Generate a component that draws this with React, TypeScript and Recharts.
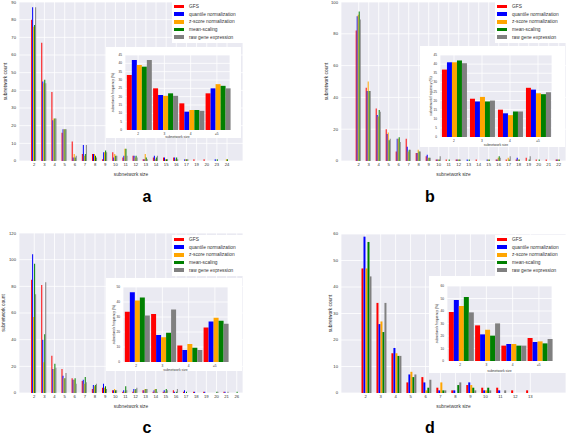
import React from 'react';
import { BarChart, Bar, XAxis, YAxis, CartesianGrid, Label } from 'recharts';

// series order: GFS, quantile, z-score, mean-scaling, raw
const SERIES = [
  { key: 'gfs', name: 'GFS', color: '#ff0000' },
  { key: 'quantile', name: 'quantile normalization', color: '#0000ff' },
  { key: 'zscore', name: 'z-score normalization', color: '#ffa500' },
  { key: 'mean', name: 'mean-scaling', color: '#008000' },
  { key: 'raw', name: 'raw gene expression', color: '#808080' },
];

// panel a
const sizesA = ['2', '3', '4', '5', '6', '7', '8', '9', '10', '11', '12', '13', '14', '15', '16', '17', '19', '20', '23', '24'];
const gfsA = [80, 67, 39, 16, 11, 4, 4, 1, 5, 2, 3, 1, 2, 2, 2, 0, 1, 1, 0, 0];
const quantileA = [87, 45, 23, 18, 2, 9, 4, 5, 2, 3, 3, 1, 3, 2, 2, 1, 0, 0, 1, 0];
const zscoreA = [76, 44, 24, 18, 4, 3, 4, 5, 4, 7, 2, 4, 1, 1, 1, 1, 0, 0, 0, 1];
const meanA = [77, 46, 24, 18, 2, 4, 3, 6, 3, 7, 3, 2, 2, 1, 2, 1, 0, 0, 1, 1];
const rawA = [87, 44, 24, 18, 3, 9, 2, 5, 3, 3, 2, 1, 3, 1, 1, 1, 0, 0, 0, 0];

// panel b
const sizesB = ['2', '3', '4', '5', '6', '7', '8', '9', '10', '11', '12', '13', '14', '15', '16', '17', '18', '19', '20', '21', '22'];
const gfsB = [82, 46, 33, 20, 6, 14, 5, 3, 1, 1, 1, 0, 1, 0, 1, 1, 1, 2, 1, 1, 1];
const quantileB = [91, 44, 29, 17, 14, 9, 5, 4, 1, 0, 1, 1, 0, 1, 1, 0, 2, 0, 0, 0, 1];
const zscoreB = [92, 50, 28, 18, 14, 6, 7, 2, 1, 0, 1, 0, 0, 1, 2, 2, 1, 0, 0, 0, 1];
const meanB = [94, 44, 32, 13, 15, 7, 6, 2, 1, 1, 1, 1, 0, 1, 3, 1, 1, 1, 1, 0, 1];
const rawB = [89, 44, 31, 14, 12, 7, 6, 2, 3, 0, 1, 0, 0, 0, 2, 3, 0, 3, 0, 0, 0];

// panel c
const sizesC = ['2', '3', '4', '5', '6', '7', '8', '9', '10', '11', '12', '13', '14', '15', '16', '17', '18', '19', '20', '21', '26'];
const gfsC = [85, 81, 28, 18, 11, 9, 3, 4, 2, 1, 1, 2, 1, 1, 2, 1, 1, 1, 0, 1, 0];
const quantileC = [104, 40, 18, 13, 10, 10, 6, 7, 2, 2, 3, 2, 2, 2, 1, 2, 1, 1, 0, 1, 0];
const zscoreC = [57, 23, 18, 11, 10, 7, 5, 4, 3, 1, 2, 3, 3, 1, 0, 0, 0, 0, 0, 0, 0];
const meanC = [97, 44, 22, 11, 11, 12, 6, 5, 2, 5, 3, 3, 3, 3, 1, 1, 0, 0, 1, 0, 1];
const rawC = [74, 83, 19, 15, 7, 8, 7, 3, 2, 2, 4, 3, 1, 2, 3, 0, 0, 0, 1, 1, 0];

// panel d
const sizesD = ['2', '3', '4', '5', '6', '7', '8', '9', '10', '11', '12', '13'];
const gfsD = [47, 34, 15, 4, 6, 2, 1, 3, 2, 2, 1, 1];
const quantileD = [59, 26, 17, 7, 4, 1, 1, 4, 1, 1, 0, 0];
const zscoreD = [47, 27, 15, 8, 1, 4, 0, 3, 1, 0, 0, 0];
const meanD = [57, 23, 14, 6, 2, 1, 3, 2, 2, 0, 0, 0];
const rawD = [44, 34, 14, 7, 5, 1, 4, 1, 1, 1, 0, 0];

// insets: frequency (%) by size group
const insetSizes = ['2', '3', '4', '≥5'];
const insetA = [[33, 25, 16, 22], [42, 21, 11, 25], [39, 20.5, 12, 27.5], [38, 22, 12, 26.5], [42, 20.5, 11.5, 25]];
const insetB = [[37, 21, 15, 27], [41, 19.5, 13, 26], [41, 22, 12, 24], [42, 19.5, 14, 23.5], [40.5, 20, 14, 24.5]];
const insetC = [[33.5, 32, 11, 23], [46.5, 18, 8, 27], [41, 16.5, 12, 29.5], [43, 19.5, 9.5, 27.5], [31, 35, 8, 25.5]];
const insetD = [[39.2, 28.5, 12.3, 18.4], [48.8, 21.3, 13.6, 15.2], [44, 25, 13.6, 15.7], [51.2, 20.3, 12.3, 14.1], [38.9, 30.1, 12.3, 17.6]];

const FONT = '"Liberation Sans", Arial, sans-serif';
const TEXT = '#333';

const toRows = (cats: string[], series: number[][]) =>
  cats.map((c, i) => {
    const row: any = { size: c };
    SERIES.forEach((s, j) => {
      row[s.key] = series[j][i];
    });
    return row;
  });

const range = (max: number, step: number) => {
  const out: number[] = [];
  for (let v = 0; v <= max + 1e-9; v += step) out.push(v);
  return out;
};

const yTitle = (text: string, dx: number, size: number) => (props: any) => {
  const vb = props.viewBox;
  const x = vb.x + dx;
  const y = vb.y + vb.height / 2;
  return (
    <text x={x} y={y} transform={`rotate(-90 ${x} ${y})`} textAnchor="middle" dominantBaseline="central" fontSize={size} fill={TEXT}>
      {text}
    </text>
  );
};

interface PlotProps {
  rows: any[];
  left: number;
  top: number;
  width: number;
  height: number;
  yAxisWidth: number;
  marginTop: number;
  marginRight: number;
  xAxisHeight: number;
  yMax: number;
  yStep: number;
  padLeft: number;
  padRight: number;
  gap: string;
  yTitleText: string;
  yTitleDx: number;
  xTitleOffset: number;
  tickSize: number;
  titleSize: number;
  background?: string;
}

const Plot: React.FC<PlotProps> = (p) => (
  <div style={{ position: 'absolute', left: p.left, top: p.top, width: p.width, height: p.height, background: p.background }}>
    <BarChart
      width={p.width}
      height={p.height}
      data={p.rows}
      margin={{ top: p.marginTop, right: p.marginRight, left: 0, bottom: 0 }}
      barGap={0}
      barCategoryGap={p.gap}
      style={{ fontFamily: FONT }}
    >
      <CartesianGrid fill="#eaeaf2" stroke="#ffffff" strokeWidth={0.8} />
      <XAxis
        dataKey="size"
        height={p.xAxisHeight}
        interval={0}
        axisLine={false}
        tickLine={false}
        tickSize={1}
        tickMargin={1.5}
        padding={{ left: p.padLeft, right: p.padRight }}
        tick={{ fontSize: p.tickSize, fill: TEXT }}
        label={{ value: 'subnetwork size', position: 'insideBottom', offset: p.xTitleOffset, fontSize: p.titleSize, fill: TEXT }}
      />
      <YAxis
        width={p.yAxisWidth}
        type="number"
        domain={[0, p.yMax]}
        ticks={range(p.yMax, p.yStep)}
        interval={0}
        axisLine={false}
        tickLine={false}
        tickSize={1}
        tickMargin={2}
        tick={{ fontSize: p.tickSize, fill: TEXT }}
      >
        <Label content={yTitle(p.yTitleText, p.yTitleDx, p.titleSize)} />
      </YAxis>
      {SERIES.map((s) => (
        <Bar key={s.key} dataKey={s.key} fill={s.color} isAnimationActive={false} />
      ))}
    </BarChart>
  </div>
);

const LegendBox: React.FC<{ left: number; top: number }> = ({ left, top }) => (
  <div style={{ position: 'absolute', left, top, width: 71, height: 41, background: '#fff', fontFamily: FONT }}>
    {SERIES.map((s, i) => (
      <div key={s.key} style={{ position: 'absolute', left: 2, top: 2 + i * 7.7, height: 5, display: 'flex', alignItems: 'center' }}>
        <span style={{ display: 'inline-block', width: 10, height: 3.8, background: s.color }} />
        <span style={{ marginLeft: 5, fontSize: 4.8, lineHeight: '5px', color: TEXT, whiteSpace: 'nowrap' }}>{s.name}</span>
      </div>
    ))}
  </div>
);

const PanelLetter: React.FC<{ x: number; y: number; text: string }> = ({ x, y, text }) => (
  <div
    style={{
      position: 'absolute',
      left: x - 10,
      top: y - 8,
      width: 20,
      height: 16,
      lineHeight: '16px',
      textAlign: 'center',
      fontFamily: FONT,
      fontWeight: 'bold',
      fontSize: 16,
      color: '#000',
    }}
  >
    {text}
  </div>
);

const mainCommon = { tickSize: 4.2, titleSize: 4.8, yTitleText: 'subnetwork count' };
const insetCommon = { tickSize: 3.2, titleSize: 3.4, yTitleText: 'subnetwork frequency (%)', padLeft: 0, padRight: 0, gap: '7%', background: '#fff' };

export default function App() {
  return (
    <div style={{ position: 'absolute', left: 0, top: 0, width: 567, height: 437, background: '#fff', overflow: 'hidden' }}>
      {/* a */}
      <Plot {...mainCommon} rows={toRows(sizesA, [gfsA, quantileA, zscoreA, meanA, rawA])}
        left={0} top={0} width={245} height={180} yAxisWidth={19} marginTop={2} marginRight={2} xAxisHeight={19}
        yMax={90} yStep={10} padLeft={10.2} padRight={10.9} gap="19%" yTitleDx={5} xTitleOffset={4} />
      <LegendBox left={172} top={2} />
      <Plot {...insetCommon} rows={toRows(insetSizes, insetA)}
        left={106} top={47} width={135} height={91} yAxisWidth={19} marginTop={8} marginRight={11} xAxisHeight={8}
        yMax={45} yStep={5} yTitleDx={7} xTitleOffset={0.5} />
      <PanelLetter x={147} y={197} text="a" />

      {/* b */}
      <Plot {...mainCommon} rows={toRows(sizesB, [gfsB, quantileB, zscoreB, meanB, rawB])}
        left={322} top={0} width={244} height={180} yAxisWidth={19} marginTop={2} marginRight={0} xAxisHeight={19}
        yMax={100} yStep={20} padLeft={12.7} padRight={2.3} gap="20%" yTitleDx={4} xTitleOffset={4} />
      <LegendBox left={495} top={2} />
      <Plot {...insetCommon} rows={toRows(insetSizes, insetB)}
        left={420} top={46} width={145} height={101} yAxisWidth={20} marginTop={9} marginRight={13} xAxisHeight={10}
        yMax={45} yStep={5} yTitleDx={11} xTitleOffset={1} />
      <PanelLetter x={430} y={197} text="b" />

      {/* c */}
      <Plot {...mainCommon} rows={toRows(sizesC, [gfsC, quantileC, zscoreC, meanC, rawC])}
        left={0} top={231} width={245} height={180} yAxisWidth={19} marginTop={2} marginRight={2} xAxisHeight={18}
        yMax={120} yStep={20} padLeft={10.2} padRight={1.2} gap="19%" yTitleDx={3} xTitleOffset={3} />
      <LegendBox left={172} top={235} />
      <Plot {...insetCommon} rows={toRows(insetSizes, insetC)}
        left={106} top={278} width={136} height={93} yAxisWidth={17} marginTop={9} marginRight={14} xAxisHeight={9}
        yMax={50} yStep={10} yTitleDx={8} xTitleOffset={0.5} />
      <PanelLetter x={147} y={428} text="c" />

      {/* d */}
      <Plot {...mainCommon} rows={toRows(sizesD, [gfsD, quantileD, zscoreD, meanD, rawD])}
        left={322} top={231} width={244} height={180} yAxisWidth={19} marginTop={3} marginRight={0} xAxisHeight={18}
        yMax={60} yStep={10} padLeft={17.2} padRight={28.2} gap="22%" yTitleDx={8} xTitleOffset={3} />
      <LegendBox left={495} top={235} />
      <Plot {...insetCommon} rows={toRows(insetSizes, insetD)}
        left={429} top={276} width={137} height={97} yAxisWidth={18} marginTop={10} marginRight={14} xAxisHeight={12}
        yMax={60} yStep={10} yTitleDx={8} xTitleOffset={1.5} />
      <PanelLetter x={430} y={428} text="d" />
    </div>
  );
}
